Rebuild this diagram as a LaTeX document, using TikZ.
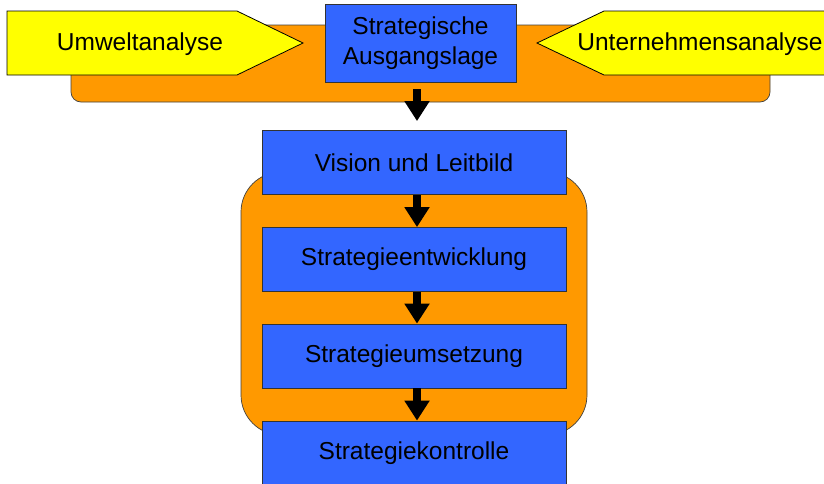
\documentclass[tikz,border=0pt]{standalone}
\usepackage{fontspec}
\setmainfont{Liberation Sans}
\usetikzlibrary{arrows.meta}
\definecolor{panelorange}{HTML}{FF9900}
\definecolor{stepblue}{HTML}{3366FF}
\definecolor{inputyellow}{HTML}{FFFF00}
\tikzset{
  panel/.style={fill=panelorange, draw=black!75, line width=0.7pt},
  stepbox/.style={rectangle, fill=stepblue, draw=black!80, line width=0.8pt,
    inner sep=0pt, minimum width=304pt, minimum height=64pt,
    font=\fontsize{24.5}{30}\selectfont},
  inputshape/.style={fill=inputyellow, draw=black, line width=0.8pt},
  inputlabel/.style={inner sep=0pt, font=\fontsize{24.5}{30}\selectfont},
  flow/.style={line width=8pt, -{Triangle[width=24pt,length=20pt]}, black}
}
\begin{document}
\begin{tikzpicture}[x=1pt, y=-1pt]
\useasboundingbox (0,0) rectangle (824,483);
\fill[white] (0,0) rectangle (824,483);

% analysis band at the top
\draw[panel, rounded corners=10pt] (71,25) rectangle (770,102);

% environment and company analysis
\draw[inputshape] (7,11) -- (237,11) -- (303,43) -- (237,75) -- (7,75) -- cycle;
\node[inputlabel] (umwelt) at (140,44) {Umweltanalyse};
\draw[inputshape] (840,11) -- (604,11) -- (537,43) -- (604,75) -- (840,75) -- cycle;
\node[inputlabel] (unternehmen) at (700,44) {Unternehmensanalyse};

% starting position
\node[stepbox, minimum width=191pt, minimum height=78pt, align=center] (lage)
  at (420.5,43) {Strategische\\Ausgangslage};

% process frame
\draw[panel, rounded corners=40pt] (241,172) rectangle (587,435);

% process steps
\node[stepbox] (vision) at (414,162.5) {Vision und Leitbild};
\node[stepbox] (entw)   at (414,259.5) {Strategieentwicklung};
\node[stepbox] (umsetz) at (414,356)   {Strategieumsetzung};
\node[stepbox] (kontr)  at (414,453)   {Strategiekontrolle};

% flow arrows
\draw[flow] ([xshift=-3.5pt,yshift=-7pt]lage.south) -- ([xshift=3pt,yshift=9pt]vision.north);
\draw[flow] ([xshift=3pt]vision.south) -- ([xshift=3pt]entw.north);
\draw[flow] ([xshift=3pt]entw.south) -- ([xshift=3pt]umsetz.north);
\draw[flow] ([xshift=3pt]umsetz.south) -- ([xshift=3pt]kontr.north);
\end{tikzpicture}
\end{document}
